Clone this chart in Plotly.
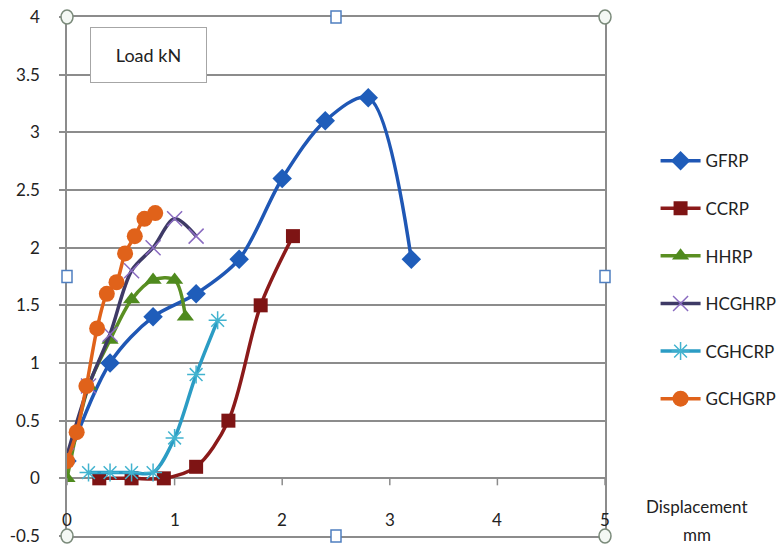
import plotly.graph_objects as go

# Load–displacement curves for each strengthening scheme
gfrp_x = [0.0, 0.4, 0.8, 1.2, 1.6, 2.0, 2.4, 2.8, 3.2]
gfrp_y = [0.15, 1.0, 1.4, 1.6, 1.9, 2.6, 3.1, 3.3, 1.9]

ccrp_x = [0.3, 0.6, 0.9, 1.2, 1.5, 1.8, 2.1]
ccrp_y = [0.0, 0.0, 0.0, 0.1, 0.5, 1.5, 2.1]

hhrp_x = [0.0, 0.2, 0.4, 0.6, 0.8, 1.0, 1.1]
hhrp_y = [0.0, 0.8, 1.2, 1.55, 1.72, 1.72, 1.4]

hcghrp_x = [0.0, 0.2, 0.4, 0.6, 0.8, 1.0, 1.2]
hcghrp_y = [0.2, 0.8, 1.25, 1.8, 2.0, 2.25, 2.1]

cghcrp_x = [0.2, 0.4, 0.6, 0.8, 1.0, 1.2, 1.4]
cghcrp_y = [0.05, 0.05, 0.05, 0.05, 0.35, 0.9, 1.37]

gchgrp_x = [0.0, 0.09, 0.18, 0.28, 0.37, 0.46, 0.54, 0.63, 0.72, 0.82]
gchgrp_y = [0.15, 0.4, 0.8, 1.3, 1.6, 1.7, 1.95, 2.1, 2.25, 2.3]

x_ticks = [0, 1, 2, 3, 4, 5]
y_ticks = [-0.5, 0, 0.5, 1, 1.5, 2, 2.5, 3, 3.5, 4]
y_tick_text = ["-0.5", "0", "0.5", "1", "1.5", "2", "2.5", "3", "3.5", "4"]

FONT = "Lato, 'Open Sans', sans-serif"
GRID = "#8C8C8C"
TXT = "#222222"

series = [
    ("GFRP", gfrp_x, gfrp_y, "#1F57B5", "#1F5DBA", "diamond", 15, 0),
    ("CCRP", ccrp_x, ccrp_y, "#8B1A1A", "#7E1414", "square", 14, 0),
    ("HHRP", hhrp_x, hhrp_y, "#5A8F22", "#4F8A1E", "triangle-up", 15, 0),
    ("HCGHRP", hcghrp_x, hcghrp_y, "#3E3A66", "#8A6BC0", "x-thin-open", 15, 1.5),
    ("CGHCRP", cghcrp_x, cghcrp_y, "#2B9CC4", "#42B3CF", "asterisk-open", 15, 1.5),
    ("GCHGRP", gchgrp_x, gchgrp_y, "#E0621A", "#E0621A", "circle", 16, 0),
]

fig = go.Figure()
for name, xs, ys, lc, mc, sym, sz, mlw in series:
    marker = dict(symbol=sym, size=sz, color=mc,
                  line=dict(color=mc, width=mlw) if mlw else dict(width=0))
    fig.add_trace(go.Scatter(
        x=xs, y=ys, name=name, mode="lines+markers",
        line=dict(color=lc, width=3.5, shape="spline", smoothing=0.9),
        marker=marker, legendgroup=name,
    ))

# Tick marks hanging below the horizontal axis at y = 0
shapes = []
for v in x_ticks:
    shapes.append(dict(type="line", xref="x", yref="y", x0=v, x1=v,
                       ysizemode="pixel", yanchor=0, y0=0, y1=-7,
                       line=dict(color=GRID, width=1.5)))

# Plot-area selection handles
def handle_circle(px, py):
    return dict(type="circle", xref="paper", yref="paper",
                xsizemode="pixel", ysizemode="pixel", xanchor=px, yanchor=py,
                x0=-6, x1=6, y0=-7, y1=7,
                line=dict(color="#7A8A7A", width=1.5), fillcolor="#F4F8F4", layer="above")

def handle_square(px, py):
    return dict(type="rect", xref="paper", yref="paper",
                xsizemode="pixel", ysizemode="pixel", xanchor=px, yanchor=py,
                x0=-5, x1=5, y0=-6, y1=6,
                line=dict(color="#4F7FC0", width=1.5), fillcolor="white", layer="above")

for px in (0, 1):
    for py in (0, 1):
        shapes.append(handle_circle(px, py))
shapes += [handle_square(0.5, 0), handle_square(0.5, 1),
           handle_square(0, 0.5), handle_square(1, 0.5)]

annotations = []
for v in x_ticks:
    annotations.append(dict(x=v, y=-0.5, xref="x", yref="y", text=str(v),
                            showarrow=False, xanchor="center", yanchor="bottom", yshift=4,
                            font=dict(family=FONT, size=17, color=TXT)))

annotations.append(dict(x=0.1506, y=0.927, xref="paper", yref="paper",
                        xanchor="center", yanchor="middle",
                        text="Load kN", showarrow=False, width=113, height=52,
                        bordercolor="#A6A6A6", borderwidth=1, bgcolor="white",
                        font=dict(family=FONT, size=18, color=TXT)))

# Horizontal axis title, two lines
for text, ypos in (("Displacement", 0.0559), ("mm", 0.002)):
    annotations.append(dict(x=1.171, y=ypos, xref="paper", yref="paper",
                            xanchor="center", yanchor="middle",
                            text=text, showarrow=False,
                            font=dict(family=FONT, size=17, color=TXT)))

fig.update_layout(
    width=783, height=548,
    margin=dict(l=67, r=178, t=17, b=12, autoexpand=False),
    paper_bgcolor="white", plot_bgcolor="white",
    font=dict(family=FONT, size=17, color=TXT),
    shapes=shapes, annotations=annotations,
    legend=dict(x=1.094, y=0.757, xanchor="left", yanchor="top",
                font=dict(family=FONT, size=17, color=TXT),
                tracegroupgap=22.5, itemwidth=40, bgcolor="rgba(0,0,0,0)"),
    showlegend=True,
)
fig.update_xaxes(range=[0, 5], showgrid=False, zeroline=False,
                 showticklabels=False, ticks="",
                 showline=True, mirror=True, linecolor=GRID, linewidth=1.5)
fig.update_yaxes(range=[-0.5, 4], tickvals=y_ticks, ticktext=y_tick_text,
                 showgrid=True, gridcolor=GRID, gridwidth=1.5,
                 zeroline=False, ticks="outside", ticklen=6, tickcolor=GRID,
                 tickwidth=1.5, ticklabelstandoff=16,
                 showline=True, mirror=True, linecolor=GRID, linewidth=1.5)

fig.write_html("out.html")
